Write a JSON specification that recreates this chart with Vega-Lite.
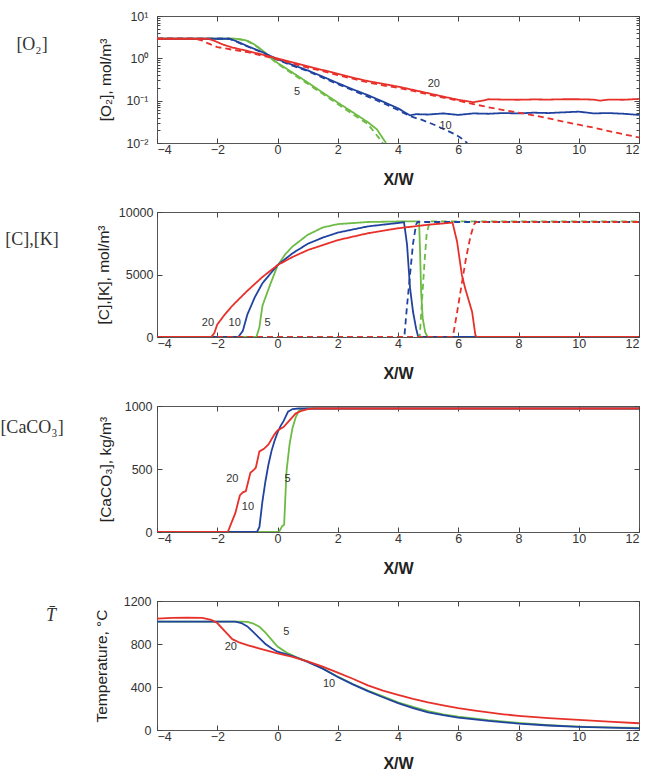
{
"$schema": "https://vega.github.io/schema/vega-lite/v6.json",
"padding": {"left": 0, "top": 9, "right": 5, "bottom": 0},
"background": "white",
"config": {
  "view": {"stroke": "#555", "strokeWidth": 1},
  "axis": {"grid": false, "domain": false, "tickColor": "#444", "tickSize": -5, "tickWidth": 1,
           "labelFont": "Liberation Sans", "labelFontSize": 12.5, "labelColor": "#333",
           "titleFont": "Liberation Sans", "titleColor": "#222", "titleFontWeight": "normal", "titleFontSize": 15.5}
},
"datasets": {
  "o2": [
    {"s":"5","k":"s","x":-4,"y":2.9},{"s":"5","k":"s","x":-1.4,"y":2.9},{"s":"5","k":"s","x":-1.2,"y":2.8},{"s":"5","k":"s","x":-1,"y":2.6},{"s":"5","k":"s","x":-0.8,"y":2.2},{"s":"5","k":"s","x":-0.6,"y":1.75},{"s":"5","k":"s","x":-0.4,"y":1.35},{"s":"5","k":"s","x":-0.2,"y":1.0},{"s":"5","k":"s","x":0,"y":0.78},{"s":"5","k":"s","x":0.5,"y":0.46},{"s":"5","k":"s","x":1,"y":0.27},{"s":"5","k":"s","x":1.5,"y":0.155},{"s":"5","k":"s","x":2,"y":0.09},{"s":"5","k":"s","x":2.5,"y":0.053},{"s":"5","k":"s","x":3,"y":0.031},{"s":"5","k":"s","x":3.3,"y":0.021},{"s":"5","k":"s","x":3.6,"y":0.01},
    {"s":"5","k":"d","x":-4,"y":2.9},{"s":"5","k":"d","x":-1.4,"y":2.9},{"s":"5","k":"d","x":-1.2,"y":2.75},{"s":"5","k":"d","x":-1,"y":2.55},{"s":"5","k":"d","x":-0.8,"y":2.15},{"s":"5","k":"d","x":-0.6,"y":1.7},{"s":"5","k":"d","x":-0.4,"y":1.3},{"s":"5","k":"d","x":-0.2,"y":0.97},{"s":"5","k":"d","x":0,"y":0.75},{"s":"5","k":"d","x":0.5,"y":0.43},{"s":"5","k":"d","x":1,"y":0.25},{"s":"5","k":"d","x":1.5,"y":0.145},{"s":"5","k":"d","x":2,"y":0.083},{"s":"5","k":"d","x":2.5,"y":0.048},{"s":"5","k":"d","x":3,"y":0.028},{"s":"5","k":"d","x":3.5,"y":0.01},
    {"s":"10","k":"s","x":-4,"y":2.9},{"s":"10","k":"s","x":-1.6,"y":2.9},{"s":"10","k":"s","x":-1.4,"y":2.6},{"s":"10","k":"s","x":-1.2,"y":2.25},{"s":"10","k":"s","x":-1,"y":1.95},{"s":"10","k":"s","x":-0.5,"y":1.4},{"s":"10","k":"s","x":0,"y":0.95},{"s":"10","k":"s","x":0.5,"y":0.7},{"s":"10","k":"s","x":1,"y":0.52},{"s":"10","k":"s","x":1.5,"y":0.37},{"s":"10","k":"s","x":2,"y":0.26},{"s":"10","k":"s","x":2.5,"y":0.185},{"s":"10","k":"s","x":3,"y":0.135},{"s":"10","k":"s","x":3.5,"y":0.095},{"s":"10","k":"s","x":4,"y":0.066},{"s":"10","k":"s","x":4.4,"y":0.045},{"s":"10","k":"s","x":4.6,"y":0.048},{"s":"10","k":"s","x":5,"y":0.047},{"s":"10","k":"s","x":5.5,"y":0.05},{"s":"10","k":"s","x":6,"y":0.046},{"s":"10","k":"s","x":6.5,"y":0.05},{"s":"10","k":"s","x":7,"y":0.049},{"s":"10","k":"s","x":7.5,"y":0.051},{"s":"10","k":"s","x":8,"y":0.05},{"s":"10","k":"s","x":8.5,"y":0.052},{"s":"10","k":"s","x":9,"y":0.051},{"s":"10","k":"s","x":9.5,"y":0.053},{"s":"10","k":"s","x":10,"y":0.055},{"s":"10","k":"s","x":10.5,"y":0.05},{"s":"10","k":"s","x":11,"y":0.051},{"s":"10","k":"s","x":11.5,"y":0.049},{"s":"10","k":"s","x":12,"y":0.046},
    {"s":"10","k":"d","x":-4,"y":2.9},{"s":"10","k":"d","x":-1.6,"y":2.9},{"s":"10","k":"d","x":-1.4,"y":2.55},{"s":"10","k":"d","x":-1.2,"y":2.2},{"s":"10","k":"d","x":-1,"y":1.9},{"s":"10","k":"d","x":-0.5,"y":1.37},{"s":"10","k":"d","x":0,"y":0.92},{"s":"10","k":"d","x":0.5,"y":0.67},{"s":"10","k":"d","x":1,"y":0.5},{"s":"10","k":"d","x":1.5,"y":0.35},{"s":"10","k":"d","x":2,"y":0.245},{"s":"10","k":"d","x":2.5,"y":0.175},{"s":"10","k":"d","x":3,"y":0.125},{"s":"10","k":"d","x":3.5,"y":0.088},{"s":"10","k":"d","x":4,"y":0.06},{"s":"10","k":"d","x":4.4,"y":0.043},{"s":"10","k":"d","x":4.8,"y":0.035},{"s":"10","k":"d","x":5.2,"y":0.027},{"s":"10","k":"d","x":5.6,"y":0.02},{"s":"10","k":"d","x":5.9,"y":0.016},{"s":"10","k":"d","x":6.1,"y":0.013},{"s":"10","k":"d","x":6.3,"y":0.01},
    {"s":"20","k":"s","x":-4,"y":2.9},{"s":"20","k":"s","x":-3,"y":2.9},{"s":"20","k":"s","x":-2.3,"y":2.9},{"s":"20","k":"s","x":-2.1,"y":2.6},{"s":"20","k":"s","x":-1.8,"y":2.1},{"s":"20","k":"s","x":-1.5,"y":1.8},{"s":"20","k":"s","x":-1,"y":1.5},{"s":"20","k":"s","x":-0.5,"y":1.22},{"s":"20","k":"s","x":0,"y":1.0},{"s":"20","k":"s","x":0.5,"y":0.8},{"s":"20","k":"s","x":1,"y":0.65},{"s":"20","k":"s","x":1.5,"y":0.53},{"s":"20","k":"s","x":2,"y":0.43},{"s":"20","k":"s","x":2.5,"y":0.35},{"s":"20","k":"s","x":3,"y":0.29},{"s":"20","k":"s","x":3.5,"y":0.25},{"s":"20","k":"s","x":4,"y":0.215},{"s":"20","k":"s","x":4.5,"y":0.18},{"s":"20","k":"s","x":5,"y":0.15},{"s":"20","k":"s","x":5.5,"y":0.125},{"s":"20","k":"s","x":6,"y":0.105},{"s":"20","k":"s","x":6.5,"y":0.092},{"s":"20","k":"s","x":6.8,"y":0.1},{"s":"20","k":"s","x":7,"y":0.108},{"s":"20","k":"s","x":7.5,"y":0.106},{"s":"20","k":"s","x":8,"y":0.105},{"s":"20","k":"s","x":8.5,"y":0.107},{"s":"20","k":"s","x":9,"y":0.106},{"s":"20","k":"s","x":9.5,"y":0.108},{"s":"20","k":"s","x":10,"y":0.108},{"s":"20","k":"s","x":10.5,"y":0.106},{"s":"20","k":"s","x":10.7,"y":0.1},{"s":"20","k":"s","x":11,"y":0.106},{"s":"20","k":"s","x":11.5,"y":0.105},{"s":"20","k":"s","x":12,"y":0.11},
    {"s":"20","k":"d","x":-4,"y":2.9},{"s":"20","k":"d","x":-2.7,"y":2.9},{"s":"20","k":"d","x":-2.5,"y":2.6},{"s":"20","k":"d","x":-2.2,"y":2.1},{"s":"20","k":"d","x":-2,"y":1.85},{"s":"20","k":"d","x":-1.5,"y":1.6},{"s":"20","k":"d","x":-1,"y":1.4},{"s":"20","k":"d","x":-0.5,"y":1.15},{"s":"20","k":"d","x":0,"y":0.95},{"s":"20","k":"d","x":0.5,"y":0.76},{"s":"20","k":"d","x":1,"y":0.6},{"s":"20","k":"d","x":1.5,"y":0.5},{"s":"20","k":"d","x":2,"y":0.4},{"s":"20","k":"d","x":2.5,"y":0.33},{"s":"20","k":"d","x":3,"y":0.27},{"s":"20","k":"d","x":3.5,"y":0.23},{"s":"20","k":"d","x":4,"y":0.2},{"s":"20","k":"d","x":4.5,"y":0.17},{"s":"20","k":"d","x":5,"y":0.14},{"s":"20","k":"d","x":5.5,"y":0.118},{"s":"20","k":"d","x":6,"y":0.1},{"s":"20","k":"d","x":6.5,"y":0.083},{"s":"20","k":"d","x":7,"y":0.07},{"s":"20","k":"d","x":7.5,"y":0.06},{"s":"20","k":"d","x":8,"y":0.052},{"s":"20","k":"d","x":8.5,"y":0.045},{"s":"20","k":"d","x":9,"y":0.038},{"s":"20","k":"d","x":9.5,"y":0.032},{"s":"20","k":"d","x":10,"y":0.027},{"s":"20","k":"d","x":10.5,"y":0.023},{"s":"20","k":"d","x":11,"y":0.019},{"s":"20","k":"d","x":11.5,"y":0.016},{"s":"20","k":"d","x":12,"y":0.0135}
  ],
  "o2lab": [{"t":"20","x":5.19,"y":0.245},{"t":"5","x":0.65,"y":0.157},{"t":"10","x":5.58,"y":0.025}],
  "ck": [
    {"s":"5","k":"s","x":-4,"y":0},{"s":"5","k":"s","x":-0.7,"y":0},{"s":"5","k":"s","x":-0.6,"y":800},{"s":"5","k":"s","x":-0.5,"y":2500},{"s":"5","k":"s","x":-0.25,"y":4150},{"s":"5","k":"s","x":0,"y":5700},{"s":"5","k":"s","x":0.25,"y":6600},{"s":"5","k":"s","x":0.5,"y":7240},{"s":"5","k":"s","x":1,"y":8170},{"s":"5","k":"s","x":1.5,"y":8760},{"s":"5","k":"s","x":2,"y":9030},{"s":"5","k":"s","x":3,"y":9200},{"s":"5","k":"s","x":4,"y":9240},{"s":"5","k":"s","x":4.7,"y":9250},{"s":"5","k":"s","x":4.73,"y":7000},{"s":"5","k":"s","x":4.77,"y":3500},{"s":"5","k":"s","x":4.82,"y":1500},{"s":"5","k":"s","x":4.9,"y":400},{"s":"5","k":"s","x":4.98,"y":0},{"s":"5","k":"s","x":12,"y":0},
    {"s":"5","k":"d","x":-4,"y":0},{"s":"5","k":"d","x":4.72,"y":0},{"s":"5","k":"d","x":4.8,"y":3000},{"s":"5","k":"d","x":4.88,"y":6000},{"s":"5","k":"d","x":4.95,"y":8200},{"s":"5","k":"d","x":5.05,"y":9250},{"s":"5","k":"d","x":12,"y":9250},
    {"s":"10","k":"s","x":-4,"y":0},{"s":"10","k":"s","x":-1.3,"y":0},{"s":"10","k":"s","x":-1.15,"y":500},{"s":"10","k":"s","x":-1,"y":1800},{"s":"10","k":"s","x":-0.75,"y":3200},{"s":"10","k":"s","x":-0.5,"y":4300},{"s":"10","k":"s","x":0,"y":5750},{"s":"10","k":"s","x":0.5,"y":6700},{"s":"10","k":"s","x":1,"y":7450},{"s":"10","k":"s","x":1.5,"y":7950},{"s":"10","k":"s","x":2,"y":8350},{"s":"10","k":"s","x":3,"y":8850},{"s":"10","k":"s","x":4,"y":9120},{"s":"10","k":"s","x":4.2,"y":9180},{"s":"10","k":"s","x":4.3,"y":7400},{"s":"10","k":"s","x":4.4,"y":3900},{"s":"10","k":"s","x":4.5,"y":2000},{"s":"10","k":"s","x":4.6,"y":700},{"s":"10","k":"s","x":4.67,"y":0},{"s":"10","k":"s","x":12,"y":0},
    {"s":"10","k":"d","x":-4,"y":0},{"s":"10","k":"d","x":4.21,"y":0},{"s":"10","k":"d","x":4.3,"y":2500},{"s":"10","k":"d","x":4.4,"y":5000},{"s":"10","k":"d","x":4.5,"y":7500},{"s":"10","k":"d","x":4.6,"y":9000},{"s":"10","k":"d","x":4.65,"y":9200},{"s":"10","k":"d","x":12,"y":9200},
    {"s":"20","k":"s","x":-4,"y":0},{"s":"20","k":"s","x":-2.2,"y":0},{"s":"20","k":"s","x":-2.1,"y":300},{"s":"20","k":"s","x":-2,"y":1000},{"s":"20","k":"s","x":-1.75,"y":1800},{"s":"20","k":"s","x":-1.5,"y":2500},{"s":"20","k":"s","x":-1,"y":3700},{"s":"20","k":"s","x":-0.5,"y":4800},{"s":"20","k":"s","x":0,"y":5750},{"s":"20","k":"s","x":0.5,"y":6400},{"s":"20","k":"s","x":1,"y":6950},{"s":"20","k":"s","x":2,"y":7750},{"s":"20","k":"s","x":3,"y":8300},{"s":"20","k":"s","x":4,"y":8700},{"s":"20","k":"s","x":5,"y":8980},{"s":"20","k":"s","x":5.81,"y":9150},{"s":"20","k":"s","x":5.96,"y":7640},{"s":"20","k":"s","x":6.12,"y":4960},{"s":"20","k":"s","x":6.23,"y":3890},{"s":"20","k":"s","x":6.46,"y":2010},{"s":"20","k":"s","x":6.57,"y":134},{"s":"20","k":"s","x":6.62,"y":0},{"s":"20","k":"s","x":12,"y":0},
    {"s":"20","k":"d","x":-4,"y":0},{"s":"20","k":"d","x":5.82,"y":0},{"s":"20","k":"d","x":5.95,"y":1800},{"s":"20","k":"d","x":6.1,"y":4000},{"s":"20","k":"d","x":6.25,"y":6200},{"s":"20","k":"d","x":6.4,"y":8000},{"s":"20","k":"d","x":6.52,"y":9000},{"s":"20","k":"d","x":6.6,"y":9200},{"s":"20","k":"d","x":12,"y":9200}
  ],
  "cklab": [{"t":"20","x":-2.31,"y":1126},{"t":"10","x":-1.42,"y":1126},{"t":"5","x":-0.33,"y":1126}],
  "ca": [
    {"s":"5","x":-4,"y":0},{"s":"5","x":0.05,"y":0},{"s":"5","x":0.15,"y":45},{"s":"5","x":0.22,"y":58},{"s":"5","x":0.3,"y":483},{"s":"5","x":0.4,"y":695},{"s":"5","x":0.5,"y":828},{"s":"5","x":0.6,"y":907},{"s":"5","x":0.7,"y":960},{"s":"5","x":0.8,"y":976},{"s":"5","x":1,"y":980},{"s":"5","x":12,"y":980},
    {"s":"10","x":-4,"y":0},{"s":"10","x":-0.68,"y":0},{"s":"10","x":-0.6,"y":40},{"s":"10","x":-0.5,"y":244},{"s":"10","x":-0.4,"y":403},{"s":"10","x":-0.3,"y":536},{"s":"10","x":-0.2,"y":642},{"s":"10","x":-0.1,"y":722},{"s":"10","x":0,"y":788},{"s":"10","x":0.1,"y":840},{"s":"10","x":0.2,"y":880},{"s":"10","x":0.35,"y":955},{"s":"10","x":0.5,"y":976},{"s":"10","x":0.7,"y":980},{"s":"10","x":12,"y":980},
    {"s":"20","x":-4,"y":0},{"s":"20","x":-1.65,"y":0},{"s":"20","x":-1.55,"y":60},{"s":"20","x":-1.4,"y":150},{"s":"20","x":-1.25,"y":290},{"s":"20","x":-1.15,"y":315},{"s":"20","x":-1.05,"y":325},{"s":"20","x":-0.9,"y":470},{"s":"20","x":-0.78,"y":495},{"s":"20","x":-0.72,"y":510},{"s":"20","x":-0.6,"y":640},{"s":"20","x":-0.45,"y":660},{"s":"20","x":-0.3,"y":695},{"s":"20","x":-0.1,"y":775},{"s":"20","x":0,"y":806},{"s":"20","x":0.2,"y":833},{"s":"20","x":0.4,"y":886},{"s":"20","x":0.6,"y":940},{"s":"20","x":0.8,"y":962},{"s":"20","x":1,"y":976},{"s":"20","x":1.2,"y":980},{"s":"20","x":12,"y":980}
  ],
  "calab": [{"t":"20","x":-1.5,"y":417},{"t":"10","x":-0.98,"y":196},{"t":"5","x":0.33,"y":417}],
  "tp": [
    {"s":"5","x":-4,"y":1008},{"s":"5","x":-1.2,"y":1008},{"s":"5","x":-1,"y":1005},{"s":"5","x":-0.8,"y":990},{"s":"5","x":-0.6,"y":960},{"s":"5","x":-0.4,"y":905},{"s":"5","x":-0.2,"y":840},{"s":"5","x":0,"y":776},{"s":"5","x":0.3,"y":720},{"s":"5","x":0.6,"y":681},{"s":"5","x":1,"y":636},{"s":"5","x":1.5,"y":573},{"s":"5","x":2,"y":496},{"s":"5","x":2.5,"y":428},{"s":"5","x":3,"y":366},{"s":"5","x":3.5,"y":312},{"s":"5","x":4,"y":258},{"s":"5","x":4.5,"y":215},{"s":"5","x":5,"y":175},{"s":"5","x":5.5,"y":146},{"s":"5","x":6,"y":124},{"s":"5","x":7,"y":91},{"s":"5","x":8,"y":66},{"s":"5","x":9,"y":46},{"s":"5","x":10,"y":32},{"s":"5","x":11,"y":24},{"s":"5","x":12,"y":19},
    {"s":"10","x":-4,"y":1008},{"s":"10","x":-1.4,"y":1008},{"s":"10","x":-1.2,"y":995},{"s":"10","x":-1,"y":964},{"s":"10","x":-0.8,"y":910},{"s":"10","x":-0.6,"y":855},{"s":"10","x":-0.4,"y":800},{"s":"10","x":-0.2,"y":760},{"s":"10","x":0,"y":728},{"s":"10","x":0.5,"y":688},{"s":"10","x":1,"y":634},{"s":"10","x":1.5,"y":571},{"s":"10","x":2,"y":493},{"s":"10","x":2.5,"y":424},{"s":"10","x":3,"y":361},{"s":"10","x":3.5,"y":305},{"s":"10","x":4,"y":250},{"s":"10","x":4.5,"y":204},{"s":"10","x":5,"y":165},{"s":"10","x":5.5,"y":138},{"s":"10","x":6,"y":116},{"s":"10","x":7,"y":85},{"s":"10","x":8,"y":60},{"s":"10","x":9,"y":42},{"s":"10","x":10,"y":29},{"s":"10","x":11,"y":22},{"s":"10","x":12,"y":16},
    {"s":"20","x":-4,"y":1036},{"s":"20","x":-3.5,"y":1043},{"s":"20","x":-3,"y":1046},{"s":"20","x":-2.5,"y":1043},{"s":"20","x":-2.2,"y":1025},{"s":"20","x":-2,"y":995},{"s":"20","x":-1.75,"y":920},{"s":"20","x":-1.5,"y":845},{"s":"20","x":-1.25,"y":812},{"s":"20","x":-1,"y":790},{"s":"20","x":-0.5,"y":750},{"s":"20","x":0,"y":713},{"s":"20","x":0.5,"y":681},{"s":"20","x":1,"y":638},{"s":"20","x":1.5,"y":590},{"s":"20","x":2,"y":533},{"s":"20","x":2.5,"y":477},{"s":"20","x":3,"y":415},{"s":"20","x":3.5,"y":367},{"s":"20","x":4,"y":327},{"s":"20","x":4.5,"y":290},{"s":"20","x":5,"y":257},{"s":"20","x":5.5,"y":230},{"s":"20","x":6,"y":204},{"s":"20","x":6.5,"y":182},{"s":"20","x":7,"y":163},{"s":"20","x":7.5,"y":146},{"s":"20","x":8,"y":132},{"s":"20","x":9,"y":110},{"s":"20","x":10,"y":94},{"s":"20","x":11,"y":78},{"s":"20","x":12,"y":63}
  ],
  "tplab": [{"t":"5","x":0.29,"y":907},{"t":"20","x":-1.55,"y":769},{"t":"10","x":1.71,"y":430}]
},
"columns": 2,
"spacing": {"row": 69, "column": 58},
"bounds": "flush",
"concat": [
    {"width": 58, "height": 58, "view": {"stroke": null},
     "data": {"values": [{"t": "[O₂]"}]},
     "mark": {"type": "text", "font": "Liberation Serif", "fontSize": 18, "color": "#333"},
     "encoding": {"text": {"field": "t"}}},
    {
    "width": 482, "height": 127,
    "resolve": {"axis": {"x": "independent", "y": "independent"}},
    "layer": [
      {"data": {"name": "o2"}, "mark": {"type": "line", "strokeWidth": 1.8, "clip": true},
       "encoding": {
         "x": {"field": "x", "type": "quantitative", "scale": {"domain": [-4, 12], "nice": false, "zero": false},
               "axis": {"orient": "bottom", "values": [-4,-2,0,2,4,6,8,10,12], "title": "X/W", "titleFontWeight": "bold", "titleFontSize": 16, "titlePadding": 16, "labelPadding": 5}},
         "y": {"field": "y", "type": "quantitative", "scale": {"type": "log", "domain": [0.01, 10]},
               "axis": {"orient": "left", "values": [0.01, 0.1, 1, 10], "labelExpr": "datum.value >= 5 ? '10¹' : datum.value >= 0.5 ? '10⁰' : datum.value >= 0.05 ? '10⁻¹' : '10⁻²'", "title": "[O₂], mol/m³", "labelPadding": 14, "titlePadding": 12}},
         "color": {"field": "s", "type": "nominal", "scale": {"domain": ["20","10","5"], "range": ["#e8302a","#2143a0","#6dbb45"]}, "legend": null},
         "strokeDash": {"field": "k", "type": "nominal", "scale": {"domain": ["s","d"], "range": [[1,0],[6,4]]}, "legend": null}
       }},
      {"data": {"name": "o2lab"}, "mark": {"type": "text", "fontSize": 11, "color": "#333", "font": "Liberation Sans"},
       "encoding": {
         "x": {"field": "x", "type": "quantitative", "axis": {"orient": "top", "values": [-4,-2,0,2,4,6,8,10,12], "labels": false, "title": null}},
         "y": {"field": "y", "type": "quantitative", "axis": {"orient": "right", "values": [0.01, 0.1, 1, 10], "labels": false, "title": null}},
         "text": {"field": "t"}
       }},
      {"data": {"name": "o2lab"}, "mark": {"type": "point", "opacity": 0},
       "encoding": {
         "x": {"field": "x", "type": "quantitative", "axis": null},
         "y": {"field": "y", "type": "quantitative", "axis": {"orient": "left", "values": [0.02,0.03,0.04,0.05,0.06,0.07,0.08,0.09,0.2,0.3,0.4,0.5,0.6,0.7,0.8,0.9,2,3,4,5,6,7,8,9], "labels": false, "title": null, "tickSize": -3}}
       }},
      {"data": {"name": "o2lab"}, "mark": {"type": "point", "opacity": 0},
       "encoding": {
         "x": {"field": "x", "type": "quantitative", "axis": null},
         "y": {"field": "y", "type": "quantitative", "axis": {"orient": "right", "values": [0.02,0.03,0.04,0.05,0.06,0.07,0.08,0.09,0.2,0.3,0.4,0.5,0.6,0.7,0.8,0.9,2,3,4,5,6,7,8,9], "labels": false, "title": null, "tickSize": -3}}
       }}
    ]
    },
    {"width": 58, "height": 56, "view": {"stroke": null},
     "data": {"values": [{"t": "[C],[K]"}]},
     "mark": {"type": "text", "font": "Liberation Serif", "fontSize": 18, "color": "#333"},
     "encoding": {"text": {"field": "t"}}},
    {
    "width": 482, "height": 125,
    "resolve": {"axis": {"x": "independent", "y": "independent"}},
    "layer": [
      {"data": {"name": "ck"}, "mark": {"type": "line", "strokeWidth": 1.8, "clip": true},
       "encoding": {
         "x": {"field": "x", "type": "quantitative", "scale": {"domain": [-4, 12], "nice": false, "zero": false},
               "axis": {"orient": "bottom", "values": [-4,-2,0,2,4,6,8,10,12], "title": "X/W", "titleFontWeight": "bold", "titleFontSize": 16, "titlePadding": 16, "labelPadding": 5}},
         "y": {"field": "y", "type": "quantitative", "scale": {"domain": [0, 10000], "nice": false},
               "axis": {"orient": "left", "values": [0, 5000, 10000], "format": "d", "title": "[C],[K], mol/m³", "labelPadding": 9, "titlePadding": 7}},
         "color": {"field": "s", "type": "nominal", "scale": {"domain": ["20","10","5"], "range": ["#e8302a","#2143a0","#6dbb45"]}, "legend": null},
         "strokeDash": {"field": "k", "type": "nominal", "scale": {"domain": ["s","d"], "range": [[1,0],[6,4]]}, "legend": null}
       }},
      {"data": {"name": "cklab"}, "mark": {"type": "text", "fontSize": 11, "color": "#333", "font": "Liberation Sans"},
       "encoding": {
         "x": {"field": "x", "type": "quantitative", "axis": {"orient": "top", "values": [-4,-2,0,2,4,6,8,10,12], "labels": false, "title": null}},
         "y": {"field": "y", "type": "quantitative", "axis": {"orient": "right", "values": [0, 5000, 10000], "labels": false, "title": null}},
         "text": {"field": "t"}
       }}
    ]
    },
    {"width": 58, "height": 44, "view": {"stroke": null},
     "data": {"values": [{"t": "[CaCO₃]"}]},
     "mark": {"type": "text", "font": "Liberation Serif", "fontSize": 18, "color": "#333"},
     "encoding": {"text": {"field": "t"}}},
    {
    "width": 482, "height": 126,
    "resolve": {"axis": {"x": "independent", "y": "independent"}},
    "layer": [
      {"data": {"name": "ca"}, "mark": {"type": "line", "strokeWidth": 1.8, "clip": true},
       "encoding": {
         "x": {"field": "x", "type": "quantitative", "scale": {"domain": [-4, 12], "nice": false, "zero": false},
               "axis": {"orient": "bottom", "values": [-4,-2,0,2,4,6,8,10,12], "title": "X/W", "titleFontWeight": "bold", "titleFontSize": 16, "titlePadding": 16, "labelPadding": 5}},
         "y": {"field": "y", "type": "quantitative", "scale": {"domain": [0, 1000], "nice": false},
               "axis": {"orient": "left", "values": [0, 500, 1000], "format": "d", "title": "[CaCO₃], kg/m³", "labelPadding": 10, "titlePadding": 11}},
         "color": {"field": "s", "type": "nominal", "scale": {"domain": ["20","10","5"], "range": ["#e8302a","#2143a0","#6dbb45"]}, "legend": null}
       }},
      {"data": {"name": "calab"}, "mark": {"type": "text", "fontSize": 11, "color": "#333", "font": "Liberation Sans"},
       "encoding": {
         "x": {"field": "x", "type": "quantitative", "axis": {"orient": "top", "values": [-4,-2,0,2,4,6,8,10,12], "labels": false, "title": null}},
         "y": {"field": "y", "type": "quantitative", "axis": {"orient": "right", "values": [0, 500, 1000], "labels": false, "title": null}},
         "text": {"field": "t"}
       }}
    ]
    },
    {"width": 96, "height": 30, "view": {"stroke": null},
     "data": {"values": [{"t": "T\u0304"}]},
     "mark": {"type": "text", "font": "Liberation Serif", "fontSize": 18, "fontStyle": "italic", "color": "#333"},
     "encoding": {"text": {"field": "t"}}},
    {
    "width": 482, "height": 129,
    "resolve": {"axis": {"x": "independent", "y": "independent"}},
    "layer": [
      {"data": {"name": "tp"}, "mark": {"type": "line", "strokeWidth": 1.8, "clip": true},
       "encoding": {
         "x": {"field": "x", "type": "quantitative", "scale": {"domain": [-4, 12], "nice": false, "zero": false},
               "axis": {"orient": "bottom", "values": [-4,-2,0,2,4,6,8,10,12], "title": "X/W", "titleFontWeight": "bold", "titleFontSize": 16, "titlePadding": 13, "labelPadding": 5}},
         "y": {"field": "y", "type": "quantitative", "scale": {"domain": [0, 1200], "nice": false},
               "axis": {"orient": "left", "values": [0, 400, 800, 1200], "format": "d", "title": "Temperature, °C", "labelPadding": 11, "titlePadding": 14}},
         "color": {"field": "s", "type": "nominal", "scale": {"domain": ["20","10","5"], "range": ["#e8302a","#2143a0","#6dbb45"]}, "legend": null}
       }},
      {"mark": {"type": "rule", "color": "#333", "strokeWidth": 1},
       "encoding": {"y": {"datum": 200, "axis": null}}},
      {"data": {"name": "tplab"}, "mark": {"type": "text", "fontSize": 11, "color": "#333", "font": "Liberation Sans"},
       "encoding": {
         "x": {"field": "x", "type": "quantitative", "axis": {"orient": "top", "values": [-4,-2,0,2,4,6,8,10,12], "labels": false, "title": null}},
         "y": {"field": "y", "type": "quantitative", "axis": {"orient": "right", "values": [0, 400, 800, 1200], "labels": false, "title": null}},
         "text": {"field": "t"}
       }}
    ]
    }
]
}
